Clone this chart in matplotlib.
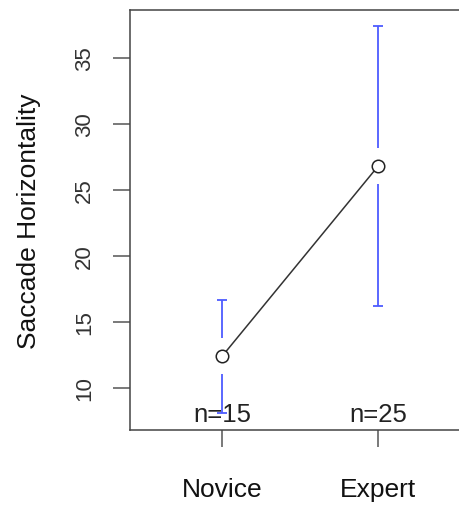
import numpy as np
import matplotlib
matplotlib.use("Agg")
import matplotlib.pyplot as plt

plt.rcParams['font.family'] = ['Liberation Sans', 'DejaVu Sans']

groups = ["Novice", "Expert"]
counts = [15, 25]
means = [12.4, 26.8]
upper = [16.7, 37.4]
lower = [8.1, 16.2]

x = np.arange(1, len(groups) + 1)

fig = plt.figure(figsize=(4.6, 5.06), dpi=100)
# the right edge of the box is cut off in the reference
ax = fig.add_axes([130 / 460, 75 / 506, 340 / 460, 420 / 506])
ax.set_xlim(0.41, 2.59)
ax.set_ylim(6.82, 38.64)

blue = "#4d5cff"
gap = 1.36   # space left around the mean point
cap = 0.032
for xi, m, lo, hi in zip(x, means, lower, upper):
    ax.vlines(xi, m + gap, hi, color=blue, lw=1.3)
    ax.vlines(xi, lo, m - gap, color=blue, lw=1.3)
    ax.hlines([lo, hi], xi - cap, xi + cap, color=blue, lw=1.3)

ax.plot(x, means, color="#333333", lw=1.1, zorder=3)
ax.plot(x, means, "o", ms=9, mfc="white", mec="#222222", mew=1.1, zorder=4)

for xi, n in zip(x, counts):
    ax.text(xi, 6.82 + 0.3, f"n={n}", ha="center", va="bottom",
            fontsize=18.5, color="#222222", zorder=5)

ax.set_xticks(x)
ax.set_xticklabels(groups, fontsize=19, color="#111111")
ax.set_yticks([10, 15, 20, 25, 30, 35])
ax.set_yticklabels(["10", "15", "20", "25", "30", "35"], rotation=90,
                   va="center", fontsize=16, color="#333333")
ax.tick_params(axis="x", length=12, width=1.1, color="#555555", pad=22)
ax.tick_params(axis="y", length=12, width=1.1, color="#555555", pad=13)
ax.set_ylabel("Saccade Horizontality", fontsize=19, color="#111111")
ax.yaxis.set_label_coords(-0.262, 0.5)

for side in ["left", "bottom", "top", "right"]:
    ax.spines[side].set_color("#444444")
    ax.spines[side].set_linewidth(1.1)

fig.savefig("out.png", dpi=100)
